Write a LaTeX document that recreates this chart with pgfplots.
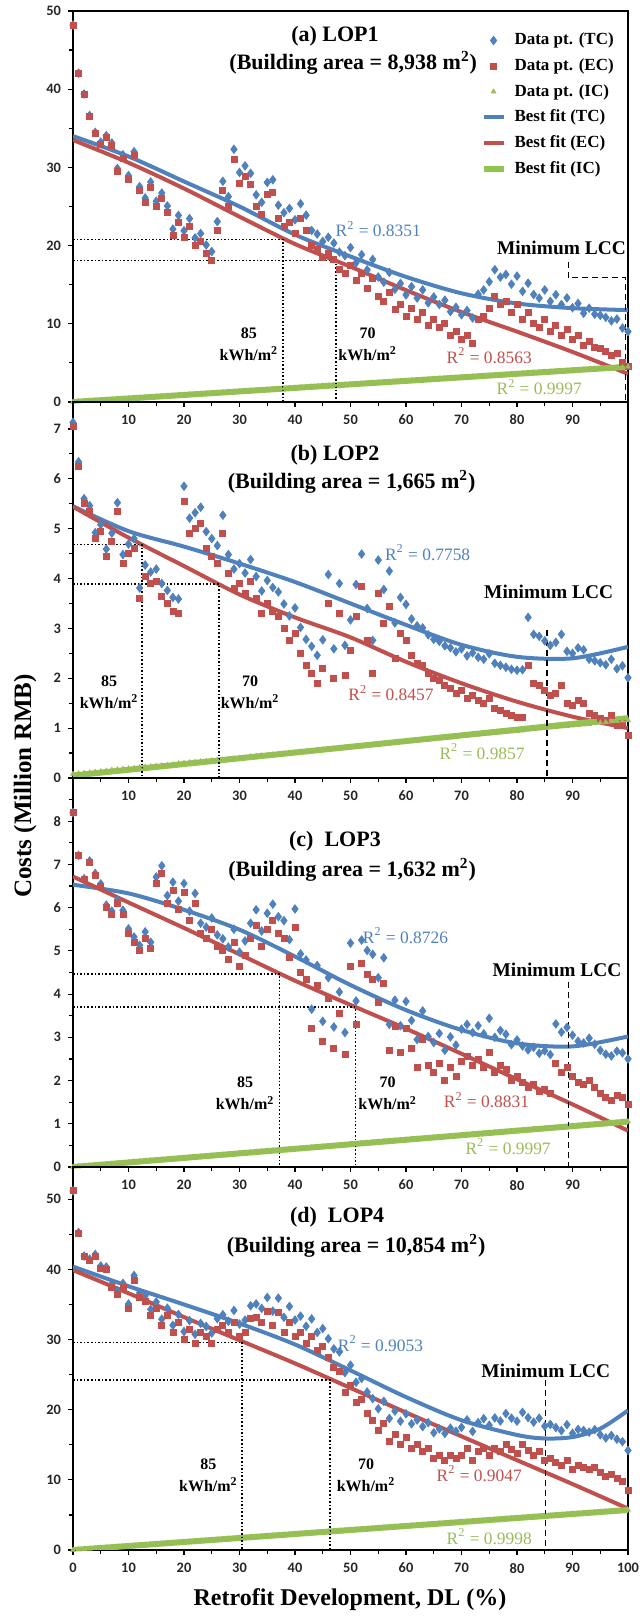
\documentclass[border=0pt]{standalone}
\usepackage{pgfplots}
\pgfplotsset{compat=1.18}
\usepackage{pgfplotstable}
\usepackage{fontspec}
\setmainfont{Liberation Serif}
\newfontfamily\tickfont{Carlito}
\definecolor{tcblue}{RGB}{79,129,189}
\definecolor{ecred}{RGB}{192,80,77}
\definecolor{icgreen}{RGB}{155,187,89}
\definecolor{fitgreen}{RGB}{146,196,80}

% columns: DL, EC, TC, IC
\pgfplotstableread{
x ec tc ic
0 48.2 48.2 0
1 42.0 42.05 0.05
2 39.3 39.39 0.09
3 36.5 36.64 0.14
4 34.3 34.48 0.18
5 33.0 33.23 0.23
6 33.8 34.07 0.27
7 32.8 33.12 0.32
8 29.5 29.86 0.36
9 31.2 31.61 0.41
10 28.5 28.95 0.45
11 31.5 32.0 0.50
12 27.0 27.54 0.54
13 25.5 26.09 0.59
14 27.5 28.13 0.63
15 25.0 25.68 0.68
16 26.0 26.72 0.72
17 24.3 25.07 0.77
18 21.3 22.11 0.81
19 23.0 23.86 0.86
20 21.0 21.9 0.90
21 22.5 23.45 0.95
22 20.0 20.99 0.99
23 20.5 21.54 1.04
24 19.0 20.08 1.08
25 18.1 19.23 1.13
26 21.9 23.07 1.17
27 27.0 28.22 1.22
28 25.0 26.26 1.26
29 31.0 32.31 1.31
30 28.0 29.35 1.35
31 28.8 30.2 1.40
32 27.8 29.24 1.44
33 25.0 26.49 1.49
34 24.0 25.53 1.53
35 26.5 28.08 1.58
36 26.8 28.42 1.62
37 23.5 25.17 1.67
38 22.5 24.21 1.71
39 23.0 24.76 1.76
40 21.5 23.3 1.80
41 23.5 25.35 1.85
42 22.0 23.89 1.89
43 20.0 21.94 1.94
44 19.5 21.48 1.98
45 18.5 20.53 2.03
46 19.0 21.07 2.07
47 18.2 20.32 2.12
48 17.0 19.16 2.16
49 16.5 18.71 2.21
50 17.5 19.75 2.25
51 15.5 17.8 2.30
52 16.5 18.84 2.34
53 14.5 16.89 2.39
54 15.8 18.23 2.43
55 13.5 15.98 2.48
56 12.8 15.32 2.52
57 14.0 16.57 2.57
58 11.8 14.41 2.61
59 12.5 15.16 2.66
60 11.0 13.7 2.70
61 12.0 14.75 2.75
62 10.5 13.29 2.79
63 11.5 14.34 2.84
64 9.8 12.68 2.88
65 10.5 13.43 2.93
66 9.5 12.47 2.97
67 10.0 13.02 3.02
68 8.5 11.56 3.06
69 9.0 12.11 3.11
70 8.0 11.15 3.15
71 8.5 11.7 3.20
72 7.5 10.74 3.24
73 10.5 13.79 3.29
74 11.0 14.33 3.33
75 12.0 15.38 3.38
76 13.5 16.92 3.42
77 12.5 15.97 3.47
78 12.8 16.31 3.51
79 11.5 15.06 3.56
80 12.5 16.1 3.60
81 10.5 14.15 3.65
82 11.5 15.19 3.69
83 10.0 13.74 3.74
84 9.5 13.28 3.78
85 10.5 14.33 3.83
86 9.0 12.87 3.87
87 9.8 13.72 3.92
88 8.5 12.46 3.96
89 9.3 13.31 4.01
90 8.0 12.05 4.05
91 8.5 12.6 4.10
92 7.2 11.34 4.14
93 7.8 11.99 4.19
94 7.0 11.23 4.23
95 6.8 11.08 4.28
96 6.5 10.82 4.32
97 6.0 10.37 4.37
98 6.2 10.61 4.41
99 5.0 9.46 4.46
100 4.5 9.0 4.50
}\dataA

\pgfplotstableread{
x ec tc ic
0 7.05 7.13 0.08
1 6.25 6.34 0.09
2 5.5 5.6 0.10
3 5.35 5.46 0.11
4 4.8 4.92 0.12
5 4.95 5.08 0.13
6 4.45 4.59 0.14
7 4.75 4.91 0.16
8 5.35 5.52 0.17
9 4.3 4.48 0.18
10 4.5 4.69 0.19
11 4.6 4.8 0.20
12 3.6 3.81 0.21
13 4.05 4.27 0.22
14 3.9 4.13 0.23
15 3.95 4.19 0.24
16 3.65 3.9 0.25
17 3.5 3.76 0.26
18 3.35 3.62 0.27
19 3.3 3.59 0.29
20 5.55 5.85 0.30
21 4.9 5.21 0.31
22 5.0 5.32 0.32
23 5.1 5.43 0.33
24 4.6 4.94 0.34
25 4.45 4.8 0.35
26 4.3 4.66 0.36
27 4.9 5.27 0.37
28 4.1 4.48 0.38
29 3.8 4.19 0.39
30 3.9 4.3 0.40
31 3.7 4.11 0.41
32 3.95 4.38 0.43
33 3.6 4.04 0.44
34 3.3 3.75 0.45
35 3.5 3.96 0.46
36 3.35 3.82 0.47
37 3.25 3.73 0.48
38 3.0 3.49 0.49
39 2.75 3.25 0.50
40 2.9 3.41 0.51
41 2.5 3.02 0.52
42 2.25 2.78 0.53
43 2.1 2.64 0.54
44 1.9 2.46 0.56
45 2.2 2.77 0.57
46 3.5 4.08 0.58
47 2.0 2.59 0.59
48 3.3 3.9 0.60
49 2.05 2.66 0.61
50 2.55 3.17 0.62
51 3.25 3.88 0.63
52 3.85 4.49 0.64
53 2.75 3.4 0.65
54 2.1 2.76 0.66
55 3.7 4.37 0.67
56 3.1 3.78 0.68
57 3.45 4.15 0.70
58 2.4 3.11 0.71
59 2.9 3.62 0.72
60 2.75 3.48 0.73
61 2.45 3.19 0.74
62 2.3 3.05 0.75
63 2.25 3.01 0.76
64 2.1 2.87 0.77
65 2.0 2.78 0.78
66 1.95 2.74 0.79
67 1.85 2.65 0.80
68 1.8 2.61 0.81
69 1.7 2.53 0.83
70 1.75 2.59 0.84
71 1.6 2.45 0.85
72 1.65 2.51 0.86
73 1.55 2.42 0.87
74 1.5 2.38 0.88
75 1.6 2.49 0.89
76 1.4 2.3 0.90
77 1.35 2.26 0.91
78 1.3 2.22 0.92
79 1.25 2.18 0.93
80 1.22 2.16 0.94
81 1.22 2.17 0.95
82 2.25 3.22 0.97
83 1.9 2.88 0.98
84 1.85 2.84 0.99
85 1.75 2.75 1.00
86 1.65 2.66 1.01
87 1.7 2.72 1.02
88 1.85 2.88 1.03
89 1.5 2.54 1.04
90 1.45 2.5 1.05
91 1.55 2.61 1.06
92 1.5 2.57 1.07
93 1.3 2.38 1.08
94 1.25 2.35 1.10
95 1.2 2.31 1.11
96 1.15 2.27 1.12
97 1.25 2.38 1.13
98 1.05 2.19 1.14
99 1.1 2.25 1.15
100 0.85 2.01 1.16
}\dataB

\pgfplotstableread{
x ec tc ic
0 8.2 8.2 0
1 7.2 7.21 0.01
2 6.65 6.67 0.02
3 7.05 7.08 0.03
4 6.75 6.79 0.04
5 6.5 6.55 0.05
6 6.0 6.06 0.06
7 5.85 5.92 0.07
8 6.1 6.18 0.08
9 5.85 5.94 0.09
10 5.4 5.51 0.11
11 5.2 5.32 0.12
12 5.0 5.13 0.13
13 5.3 5.44 0.14
14 5.05 5.2 0.15
15 6.55 6.71 0.16
16 6.8 6.97 0.17
17 6.1 6.28 0.18
18 6.4 6.59 0.19
19 5.95 6.15 0.20
20 6.35 6.56 0.21
21 5.7 5.92 0.22
22 6.1 6.33 0.23
23 5.4 5.64 0.24
24 5.3 5.55 0.25
25 5.5 5.76 0.26
26 5.1 5.37 0.27
27 5.0 5.28 0.28
28 4.8 5.09 0.29
29 5.2 5.5 0.30
30 4.65 4.97 0.32
31 4.9 5.23 0.33
32 5.3 5.64 0.34
33 5.6 5.95 0.35
34 5.1 5.46 0.36
35 5.5 5.87 0.37
36 5.7 6.08 0.38
37 5.4 5.79 0.39
38 5.3 5.7 0.40
39 4.85 5.26 0.41
40 5.55 5.97 0.42
41 4.5 4.93 0.43
42 4.35 4.79 0.44
43 3.2 3.65 0.45
44 4.2 4.66 0.46
45 2.9 3.37 0.47
46 3.9 4.38 0.48
47 2.75 3.24 0.49
48 3.55 4.05 0.50
49 2.6 3.11 0.51
50 4.65 5.18 0.53
51 3.3 3.84 0.54
52 4.7 5.25 0.55
53 4.45 5.01 0.56
54 4.35 4.92 0.57
55 3.8 4.38 0.58
56 4.25 4.84 0.59
57 2.7 3.3 0.60
58 3.25 3.86 0.61
59 2.65 3.27 0.62
60 3.2 3.83 0.63
61 2.75 3.39 0.64
62 2.3 2.95 0.65
63 2.95 3.61 0.66
64 2.35 3.02 0.67
65 2.2 2.88 0.68
66 2.4 3.09 0.69
67 2.0 2.7 0.70
68 2.3 3.01 0.71
69 2.1 2.82 0.72
70 2.45 3.19 0.74
71 2.55 3.3 0.75
72 2.35 3.11 0.76
73 2.5 3.27 0.77
74 2.3 3.08 0.78
75 2.65 3.44 0.79
76 2.2 3.0 0.80
77 2.35 3.16 0.81
78 2.25 3.07 0.82
79 2.0 2.83 0.83
80 2.1 2.94 0.84
81 1.95 2.8 0.85
82 1.85 2.71 0.86
83 1.9 2.77 0.87
84 1.75 2.63 0.88
85 1.8 2.69 0.89
86 1.7 2.6 0.90
87 2.4 3.31 0.91
88 2.2 3.12 0.92
89 2.3 3.23 0.93
90 2.1 3.05 0.95
91 1.95 2.91 0.96
92 1.9 2.87 0.97
93 2.0 2.98 0.98
94 1.85 2.84 0.99
95 1.7 2.7 1.00
96 1.6 2.61 1.01
97 1.55 2.57 1.02
98 1.65 2.68 1.03
99 1.6 2.64 1.04
100 1.45 2.5 1.05
}\dataC

\pgfplotstableread{
x ec tc ic
0 51.2 51.2 0
1 45.2 45.26 0.06
2 41.8 41.91 0.11
3 41.3 41.47 0.17
4 41.9 42.13 0.23
5 40.2 40.49 0.29
6 40.0 40.34 0.34
7 37.5 37.9 0.40
8 36.5 36.96 0.46
9 37.5 38.01 0.51
10 34.5 35.07 0.57
11 38.5 39.13 0.63
12 36.0 36.68 0.68
13 35.5 36.24 0.74
14 33.5 34.3 0.80
15 34.5 35.36 0.86
16 32.0 32.91 0.91
17 33.5 34.47 0.97
18 31.0 32.03 1.03
19 32.5 33.58 1.08
20 30.0 31.14 1.14
21 31.5 32.7 1.20
22 29.5 30.75 1.25
23 31.0 32.31 1.31
24 30.5 31.87 1.37
25 29.5 30.93 1.43
26 31.5 32.98 1.48
27 32.0 33.54 1.54
28 31.0 32.6 1.60
29 32.5 34.15 1.65
30 30.5 32.21 1.71
31 31.0 32.77 1.77
32 33.0 34.82 1.82
33 33.2 35.08 1.88
34 32.5 34.44 1.94
35 34.0 36.0 2.00
36 32.0 34.05 2.05
37 33.8 35.91 2.11
38 31.0 33.17 2.17
39 32.5 34.72 2.22
40 30.5 32.78 2.28
41 31.0 33.34 2.34
42 29.5 31.89 2.39
43 30.5 32.95 2.45
44 28.5 31.01 2.51
45 29.0 31.57 2.57
46 27.5 30.12 2.62
47 26.0 28.68 2.68
48 25.5 28.24 2.74
49 22.5 25.29 2.79
50 23.5 26.35 2.85
51 21.0 23.91 2.91
52 21.5 24.46 2.96
53 19.5 22.52 3.02
54 18.5 21.58 3.08
55 17.0 20.14 3.14
56 18.0 21.19 3.19
57 15.5 18.75 3.25
58 16.5 19.81 3.31
59 15.0 18.36 3.36
60 16.0 19.42 3.42
61 14.5 17.98 3.48
62 15.0 18.53 3.53
63 14.0 17.59 3.59
64 14.5 18.15 3.65
65 13.0 16.71 3.71
66 13.5 17.26 3.76
67 12.8 16.62 3.82
68 13.5 17.38 3.88
69 13.0 16.93 3.93
70 13.5 17.49 3.99
71 14.5 18.55 4.05
72 12.8 16.9 4.10
73 14.0 18.16 4.16
74 14.5 18.72 4.22
75 13.5 17.78 4.28
76 14.5 18.83 4.33
77 14.0 18.39 4.39
78 15.0 19.45 4.45
79 14.3 18.8 4.50
80 13.8 18.36 4.56
81 15.0 19.62 4.62
82 14.2 18.87 4.67
83 13.5 18.23 4.73
84 14.0 18.79 4.79
85 12.8 17.65 4.85
86 13.0 17.9 4.90
87 12.5 17.46 4.96
88 12.0 17.02 5.02
89 12.8 17.87 5.07
90 11.5 16.63 5.13
91 12.0 17.19 5.19
92 11.8 17.04 5.24
93 11.5 16.8 5.30
94 11.8 17.16 5.36
95 11.0 16.42 5.42
96 10.5 15.97 5.47
97 10.8 16.33 5.53
98 10.2 15.79 5.59
99 9.8 15.44 5.64
100 8.5 14.2 5.70
}\dataD

\newcommand{\ttl}{\fontsize{11}{13}\selectfont\bfseries}
\newcommand{\lbl}{\fontsize{8}{11}\selectfont\bfseries}
\newcommand{\rsq}{\fontsize{8.7}{10}\selectfont}
\newcommand{\mlcc}{\fontsize{9.7}{11}\selectfont\bfseries}

\pgfplotsset{
  panel/.style={
    scale only axis, width=277.5pt, anchor=south west,
    xmin=0, xmax=100, ymin=0,
    xtick={10,20,...,90}, minor xtick={5,15,...,95},
    xtick pos=left, ytick pos=left,
    tick align=outside, major tick length=2.5pt, minor tick length=1.8pt,
    tick style={black, line width=0.6pt},
    axis line style={line width=1.1pt},
    tick label style={font=\tickfont\bfseries\fontsize{7.2}{8}\selectfont, text=black!85},
    /pgf/number format/assume math mode=true,
    xticklabel style={yshift=-0.5pt},
    legend image code/.code={\draw[mark repeat=2,mark phase=2,##1] plot coordinates {(0pt,0pt)(5pt,0pt)(10pt,0pt)};},
  },
  tcpt/.style={only marks, mark=diamond*, mark size=2.1pt, color=tcblue},
  ecpt/.style={only marks, mark=square*, mark size=1.5pt, color=ecred},
  icpt/.style={only marks, mark=triangle*, mark size=1.3pt, color=icgreen},
  tcfit/.style={no marks, smooth, line width=2pt, color=tcblue},
  ecfit/.style={no marks, smooth, line width=2pt, color=ecred},
  icfit/.style={no marks, line width=3pt, color=fitgreen},
  guide/.style={forget plot, no marks, black, line width=0.8pt, densely dotted},
  lcc/.style={forget plot, no marks, black, line width=0.55pt, dash pattern=on 3pt off 2pt},
}

\begin{document}
\begin{tikzpicture}
\useasboundingbox (-36.5pt,-33pt) rectangle (283.5pt,775pt);

% (a) LOP1
\begin{axis}[panel, at={(0pt,574pt)}, height=195.5pt, ymax=50,
  ytick={0,10,...,50}, minor ytick={5,15,...,45},
  legend style={draw=none, fill=none, at={(0.993,0.965)}, anchor=north east,
    font=\fontsize{8.5}{9}\selectfont\bfseries, row sep=1.4pt,
    /tikz/every odd column/.append style={column sep=2pt}},
  legend cell align=left]
\addplot[tcpt] table[x=x,y=tc]{\dataA};
\addplot[ecpt] table[x=x,y=ec]{\dataA};
\addplot[icpt] table[x=x,y=ic]{\dataA};
\addplot[tcfit] coordinates {(0,34.0)(10,31.4)(20,28.2)(30,25.0)(40,21.4)(50,18.6)(60,16.0)(70,13.9)(80,12.6)(90,12.0)(100,11.75)};
\addplot[ecfit] coordinates {(0,33.5)(10,30.6)(20,27.3)(30,23.7)(40,20.2)(50,17.3)(60,14.3)(70,11.5)(80,9.0)(90,6.4)(100,3.6)};
\addplot[icfit] coordinates {(0,0)(100,4.5)};
\legend{Data pt. (TC), Data pt. (EC), Data pt. (IC), Best fit (TC), Best fit (EC), Best fit (IC)}
\addplot[guide] coordinates {(0,20.8)(37.8,20.8)(37.8,0)};
\addplot[guide] coordinates {(0,18.1)(47.4,18.1)(47.4,0)};
\addplot[lcc] coordinates {(89.2,17.9)(89.2,15.9)(99.6,15.9)(99.6,0)};
\node[font=\ttl] at (axis cs:47.2,46.8) {(a) LOP1};
\node[font=\ttl] at (axis cs:50.5,43.4) {(Building area = 8,938 m\textsuperscript{2})};
\node[align=center, font=\lbl] at (axis cs:31.7,7.4) {85\\kWh/m\textsuperscript{2}};
\node[align=center, font=\lbl] at (axis cs:53.1,7.4) {70\\kWh/m\textsuperscript{2}};
\node[font=\rsq, text=tcblue] at (axis cs:55,22.1) {R\textsuperscript{2} = 0.8351};
\node[font=\rsq, text=ecred] at (axis cs:75,5.9) {R\textsuperscript{2} = 0.8563};
\node[font=\rsq, text=icgreen] at (axis cs:84,1.9) {R\textsuperscript{2} = 0.9997};
\node[font=\mlcc] at (axis cs:88,19.7) {Minimum LCC};
\end{axis}

% (b) LOP2
\begin{axis}[panel, at={(0pt,386pt)}, height=188pt, ymax=7.54,
  ytick={0,1,...,7}, minor ytick={0.5,1.5,...,6.5}]
\addplot[tcpt] table[x=x,y=tc]{\dataB};
\addplot[ecpt] table[x=x,y=ec]{\dataB};
\addplot[icpt] table[x=x,y=ic]{\dataB};
\addplot[tcfit] coordinates {(0,5.45)(10,4.95)(20,4.64)(30,4.3)(40,3.93)(50,3.5)(60,3.07)(70,2.67)(80,2.43)(90,2.4)(100,2.63)};
\addplot[ecfit] coordinates {(0,5.44)(10,4.82)(20,4.25)(30,3.68)(40,3.22)(50,2.82)(60,2.33)(70,1.9)(80,1.53)(90,1.23)(100,1.0)};
\addplot[icfit] coordinates {(0,0.05)(100,1.2)};
\addplot[guide] coordinates {(0,4.68)(12.4,4.68)(12.4,0)};
\addplot[guide] coordinates {(0,3.89)(26.3,3.89)(26.3,0)};
\addplot[lcc] coordinates {(85.4,2.97)(85.4,0)};
\node[font=\ttl] at (axis cs:47.2,6.47) {(b) LOP2};
\node[font=\ttl] at (axis cs:50.2,5.94) {(Building area = 1,665 m\textsuperscript{2})};
\node[align=center, font=\lbl] at (axis cs:6.5,1.72) {85\\kWh/m\textsuperscript{2}};
\node[align=center, font=\lbl] at (axis cs:31.9,1.72) {70\\kWh/m\textsuperscript{2}};
\node[font=\rsq, text=tcblue] at (axis cs:63.9,4.52) {R\textsuperscript{2} = 0.7758};
\node[font=\rsq, text=ecred] at (axis cs:57.3,1.70) {R\textsuperscript{2} = 0.8457};
\node[font=\rsq, text=icgreen] at (axis cs:73.7,0.53) {R\textsuperscript{2} = 0.9857};
\node[font=\mlcc] at (axis cs:85.7,3.73) {Minimum LCC};
\end{axis}

% (c) LOP3
\begin{axis}[panel, at={(0pt,191.5pt)}, height=194.5pt, ymax=9.0,
  ytick={0,1,...,8}, minor ytick={0.5,1.5,...,8.5}]
\addplot[tcpt] table[x=x,y=tc]{\dataC};
\addplot[ecpt] table[x=x,y=ec]{\dataC};
\addplot[icpt] table[x=x,y=ic]{\dataC};
\addplot[tcfit] coordinates {(0,6.53)(10,6.33)(20,5.95)(30,5.49)(40,4.87)(50,4.21)(60,3.63)(70,3.17)(80,2.86)(90,2.79)(100,3.02)};
\addplot[ecfit] coordinates {(0,6.72)(10,6.12)(20,5.53)(30,4.92)(40,4.31)(50,3.75)(60,3.2)(70,2.62)(80,2.03)(90,1.45)(100,0.84)};
\addplot[icfit] coordinates {(0,0)(100,1.05)};
\addplot[guide] coordinates {(0,4.47)(37.2,4.47)(37.2,0)};
\addplot[guide] coordinates {(0,3.70)(50.9,3.70)(50.9,0)};
\addplot[lcc] coordinates {(89.3,4.29)(89.3,0)};
\node[font=\ttl] at (axis cs:47.2,7.53) {(c)\ \ LOP3};
\node[font=\ttl] at (axis cs:50.3,6.88) {(Building area = 1,632 m\textsuperscript{2})};
\node[align=center, font=\lbl] at (axis cs:31,1.7) {85\\kWh/m\textsuperscript{2}};
\node[align=center, font=\lbl] at (axis cs:56.7,1.7) {70\\kWh/m\textsuperscript{2}};
\node[font=\rsq, text=tcblue] at (axis cs:59.9,5.35) {R\textsuperscript{2} = 0.8726};
\node[font=\rsq, text=ecred] at (axis cs:74.5,1.55) {R\textsuperscript{2} = 0.8831};
\node[font=\rsq, text=icgreen] at (axis cs:78.4,0.47) {R\textsuperscript{2} = 0.9997};
\node[font=\mlcc] at (axis cs:87.2,4.56) {Minimum LCC};
\end{axis}

% (d) LOP4
\begin{axis}[panel, at={(0pt,0pt)}, height=191.5pt, ymax=54.6,
  xtick={0,10,...,100},
  ytick={0,10,...,50}, minor ytick={5,15,...,45}]
\addplot[tcpt] table[x=x,y=tc]{\dataD};
\addplot[ecpt] table[x=x,y=ec]{\dataD};
\addplot[icpt] table[x=x,y=ic]{\dataD};
\addplot[tcfit] coordinates {(0,40.4)(10,37.6)(20,35.0)(30,32.3)(40,29.3)(50,25.6)(60,21.8)(70,18.5)(80,16.4)(85,15.9)(90,16.1)(95,17.3)(100,19.9)};
\addplot[ecfit] coordinates {(0,39.9)(10,36.6)(20,33.2)(30,29.9)(40,26.6)(50,23.1)(60,19.6)(70,16.2)(80,12.8)(90,9.4)(100,5.9)};
\addplot[icfit] coordinates {(0,0)(100,5.7)};
\addplot[guide] coordinates {(0,29.6)(30.5,29.6)(30.5,0)};
\addplot[guide] coordinates {(0,24.2)(46.3,24.2)(46.3,0)};
\addplot[lcc] coordinates {(85.2,24.2)(85.2,0)};
\node[font=\ttl] at (axis cs:47.6,47.5) {(d)\ \ LOP4};
\node[font=\ttl] at (axis cs:51,43.4) {(Building area = 10,854 m\textsuperscript{2})};
\node[align=center, font=\lbl] at (axis cs:24.4,10.7) {85\\kWh/m\textsuperscript{2}};
\node[align=center, font=\lbl] at (axis cs:52.8,10.7) {70\\kWh/m\textsuperscript{2}};
\node[font=\rsq, text=tcblue] at (axis cs:55.4,29.4) {R\textsuperscript{2} = 0.9053};
\node[font=\rsq, text=ecred] at (axis cs:73.2,10.9) {R\textsuperscript{2} = 0.9047};
\node[font=\rsq, text=icgreen] at (axis cs:75,1.9) {R\textsuperscript{2} = 0.9998};
\node[font=\mlcc] at (axis cs:85.2,25.6) {Minimum LCC};
\end{axis}

\node[rotate=90, font=\fontsize{12.5}{14}\selectfont\bfseries] at (-24pt,382pt) {Costs (Million RMB)};
\node[font=\fontsize{12}{14}\selectfont\bfseries] at (138.5pt,-25pt) {Retrofit Development, DL (\%)};
\end{tikzpicture}
\end{document}
